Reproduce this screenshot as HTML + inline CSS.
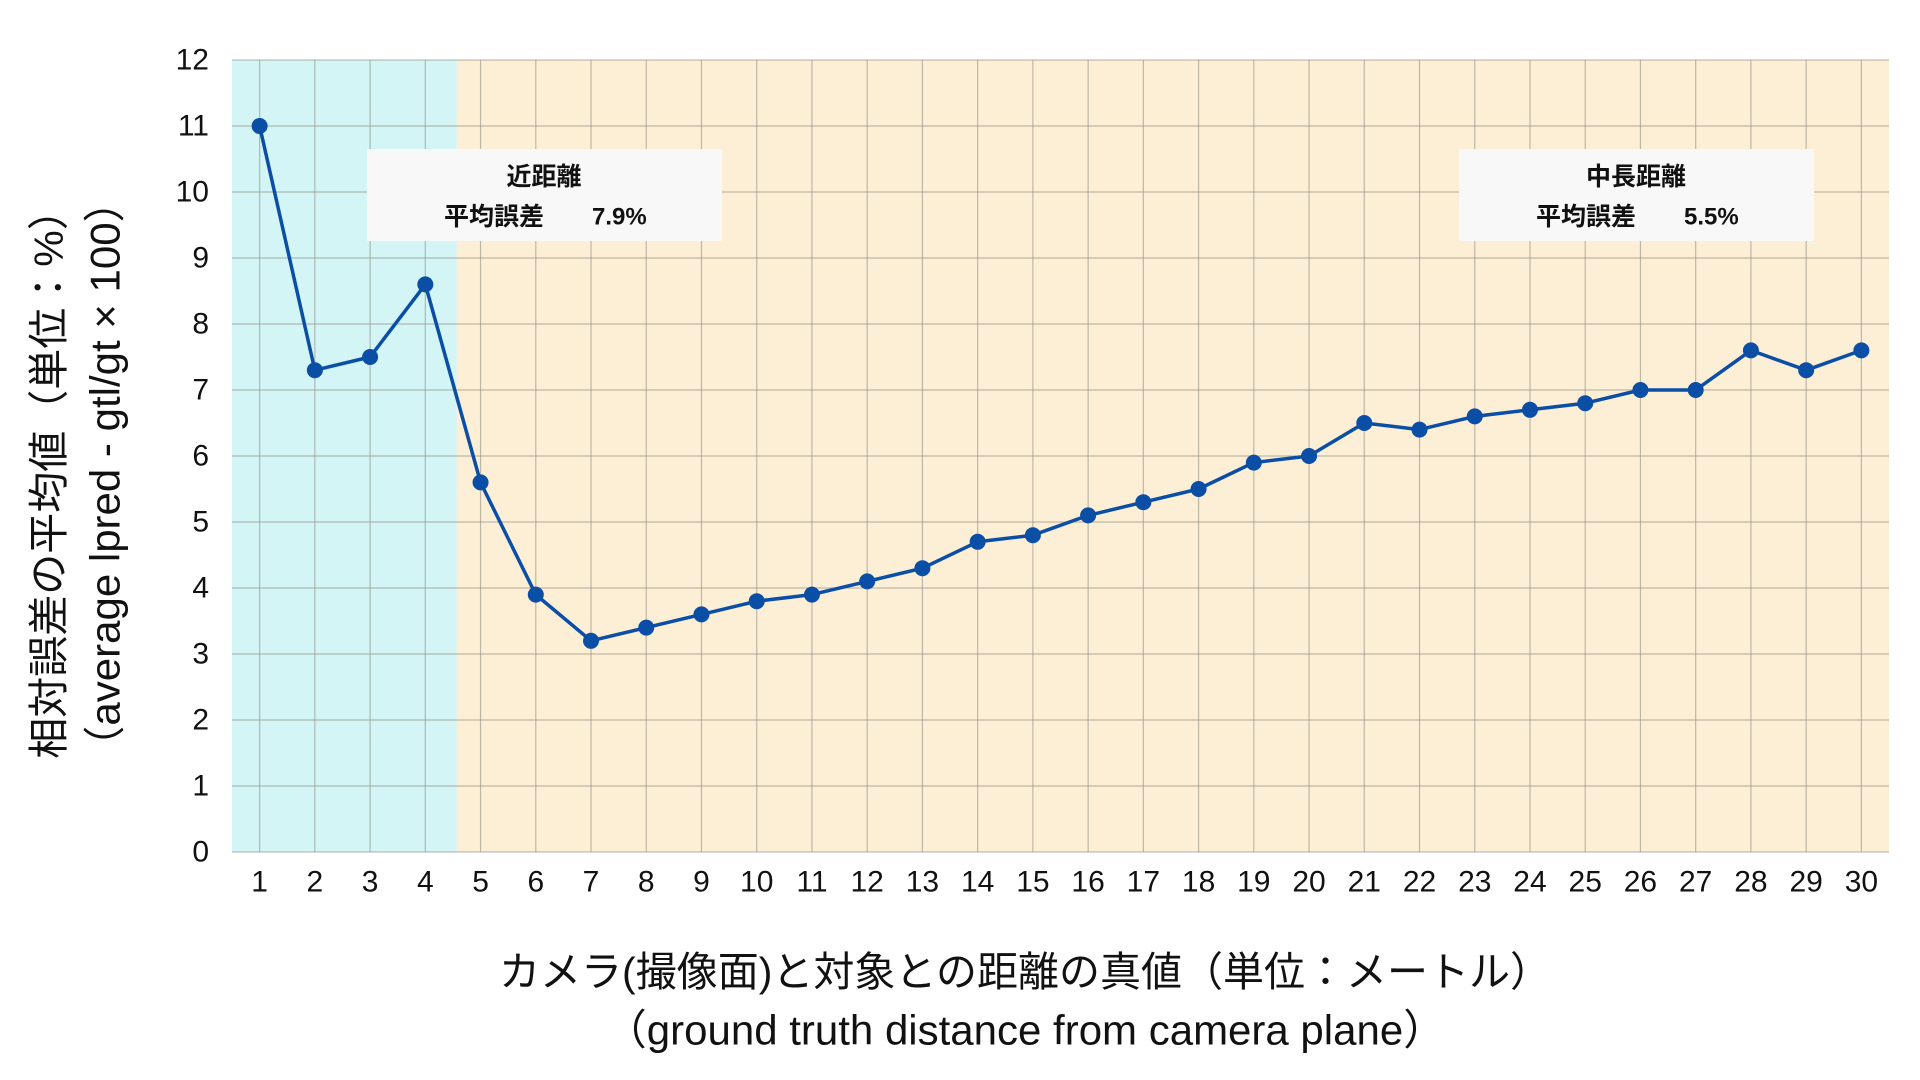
<!DOCTYPE html>
<html><head><meta charset="utf-8"><style>
html,body{margin:0;padding:0;background:#fff;}
svg{display:block;}
text{font-family:"Liberation Sans","Noto Sans CJK JP",sans-serif;}
</style></head><body>
<svg id="chart" width="1920" height="1080" viewBox="0 0 1920 1080">
<g id="bg"></g><g id="grid"></g><g id="ann"></g><g id="series"></g><g id="ticks"></g>
<text x="49" y="474" transform="rotate(-90 49 474)" text-anchor="middle" dominant-baseline="central" font-size="41" fill="#111">相対誤差の平均値（単位：%）</text>
<text x="105" y="474" transform="rotate(-90 105 474)" text-anchor="middle" dominant-baseline="central" font-size="42" fill="#111">（average lpred - gtl/gt × 100）</text>
<text x="1025" y="972" text-anchor="middle" dominant-baseline="central" font-size="41" fill="#111">カメラ(撮像面)と対象との距離の真値（単位：メートル）</text>
<text x="1025" y="1030" text-anchor="middle" dominant-baseline="central" font-size="42" fill="#111">（ground truth distance from camera plane）</text>
</svg>
<script>
const categories=[1,2,3,4,5,6,7,8,9,10,11,12,13,14,15,16,17,18,19,20,21,22,23,24,25,26,27,28,29,30];
const values=[11,7.3,7.5,8.6,5.6,3.9,3.2,3.4,3.6,3.8,3.9,4.1,4.3,4.7,4.8,5.1,5.3,5.5,5.9,6.0,6.5,6.4,6.6,6.7,6.8,7.0,7.0,7.6,7.3,7.6];
const yTicks=[0,1,2,3,4,5,6,7,8,9,10,11,12];
const nearBoundary=4.57;
const annLabels=[["近距離","平均誤差","7.9%"],["中長距離","平均誤差","5.5%"]];

const L=232,R=1889,T=60,B=852;
const xs=v=>L+(v-0.5)/30*(R-L);
const ys=v=>B-v/12*(B-T);
const NS="http://www.w3.org/2000/svg";
function mk(tag,attrs,parent){const e=document.createElementNS(NS,tag);for(const k in attrs)e.setAttribute(k,attrs[k]);document.getElementById(parent).appendChild(e);return e;}

let r=mk('rect',{x:L,y:T,width:xs(nearBoundary)-L,height:B-T,fill:'#d4f5f5'},'bg');


r=mk('rect',{x:xs(nearBoundary),y:T,width:R-xs(nearBoundary),height:B-T,fill:'#fdeed6'},'bg');



yTicks.forEach(v=>{
 let l=mk('line',{x1:L,x2:R,y1:ys(v),y2:ys(v),stroke:'#8a8a80','stroke-opacity':0.55,'stroke-width':1.2},'grid');
 
 
 let t=mk('text',{x:209,y:ys(v),'text-anchor':'end','dominant-baseline':'central','font-size':30,fill:'#111'},'ticks');
 t.textContent=v;
 
 
});
categories.forEach(c=>{
 let l=mk('line',{x1:xs(c),x2:xs(c),y1:T,y2:B,stroke:'#8a8a80','stroke-opacity':0.55,'stroke-width':1.2},'grid');
 
 
 let t=mk('text',{x:xs(c),y:882,'text-anchor':'middle','dominant-baseline':'central','font-size':30,fill:'#111'},'ticks');
 t.textContent=c;
 
 
});

const boxes=[[367,149],[1459,149]];
boxes.forEach((b,i)=>{
 let g=mk('rect',{x:b[0],y:b[1],width:355,height:92,fill:'#f8f8f8'},'ann');
 
 
 let t1=mk('text',{x:b[0]+177,y:177,'text-anchor':'middle','dominant-baseline':'central','font-size':25,'font-weight':'bold',fill:'#111'},'ann');
 t1.textContent=annLabels[i][0];
 
 
 let t2=mk('text',{x:b[0]+77,y:217,'dominant-baseline':'central','font-size':25,'font-weight':'bold',fill:'#111'},'ann');
 t2.textContent=annLabels[i][1];
 
 
 let t3=mk('text',{x:b[0]+225,y:217,'dominant-baseline':'central','font-size':24,'font-weight':'bold',fill:'#111'},'ann');
 t3.textContent=annLabels[i][2];
 
 
});

const pts=categories.map((c,i)=>xs(c)+','+ys(values[i])).join(' ');
let pl=mk('polyline',{points:pts,fill:'none',stroke:'#0a4ea6','stroke-width':3.5,'stroke-linejoin':'round'},'series');


categories.forEach((c,i)=>{
 let p=mk('circle',{cx:xs(c),cy:ys(values[i]),r:8,fill:'#0a4ea6'},'series');
 
 
});
</script>
</body></html>
